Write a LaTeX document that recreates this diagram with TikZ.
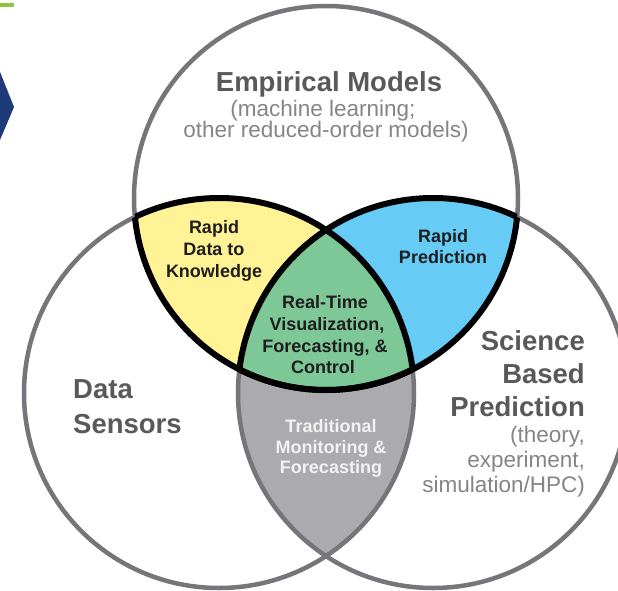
\documentclass[tikz,border=0pt]{standalone}
\usepackage{fontspec}
\setmainfont{Liberation Sans}
\definecolor{ringgray}{HTML}{76767A}
\definecolor{titlegray}{HTML}{595959}
\definecolor{subgray}{HTML}{858585}
\definecolor{zonetext}{HTML}{1E1E1E}
\definecolor{zoneyellow}{HTML}{FFF396}
\definecolor{zoneblue}{HTML}{66CCF5}
\definecolor{zonegreen}{HTML}{7DC896}
\definecolor{zonegray}{HTML}{AAAAAF}
\definecolor{navy}{HTML}{1F3A7A}
\definecolor{leafgreen}{HTML}{8DC63F}
\begin{document}
\begin{tikzpicture}[x=1pt,y=-1pt,
  ring/.style={draw=ringgray,line width=4.5pt},
  edge/.style={draw=black,line width=6pt},
  bigtitle/.style={font=\fontsize{27.5}{33}\selectfont\bfseries,text=titlegray,inner sep=0pt},
  subtitle/.style={font=\fontsize{22.5}{26}\selectfont,text=subgray,inner sep=0pt},
  zone/.style={font=\fontsize{18}{21}\selectfont\bfseries,text=zonetext,inner sep=0pt},
  zonelight/.style={font=\fontsize{18}{21}\selectfont\bfseries,text=white!95!black,inner sep=0pt},
]
\useasboundingbox[fill=white] (0,0) rectangle (618,591);

% circle centres
\coordinate (T) at (326,198);
\coordinate (L) at (219,393);
\coordinate (R) at (433,393);
\def\rT{192pt}
\def\rS{195pt}

% corner decorations
\fill[leafgreen] (0,3) rectangle (14,7);
\fill[navy] (0,72) -- (14,107) -- (0,140) -- cycle;

% overlap fills
\begin{scope}
  \clip (L) circle[radius=\rS];
  \fill[zonegray] (R) circle[radius=\rS];
\end{scope}
\begin{scope}
  \clip (T) circle[radius=\rT];
  \fill[zoneyellow] (L) circle[radius=\rS];
\end{scope}
\begin{scope}
  \clip (T) circle[radius=\rT];
  \fill[zoneblue] (R) circle[radius=\rS];
\end{scope}
\begin{scope}
  \clip (T) circle[radius=\rT];
  \clip (L) circle[radius=\rS];
  \fill[zonegreen] (R) circle[radius=\rS];
\end{scope}

% the three sets
\draw[ring] (T) circle[radius=\rT];
\draw[ring] (L) circle[radius=\rS];
\draw[ring] (R) circle[radius=\rS];

% black outlines of the overlaps with the top set
\begin{scope}
  \clip (T) circle[radius=\rT];
  \draw[edge] (L) circle[radius=\rS];
  \draw[edge] (R) circle[radius=\rS];
\end{scope}
\begin{scope}
  \clip (L) circle[radius=\rS];
  \draw[edge] (T) circle[radius=\rT];
\end{scope}
\begin{scope}
  \clip (R) circle[radius=\rS];
  \draw[edge] (T) circle[radius=\rT];
\end{scope}

% Empirical Models
\node[bigtitle,anchor=base] (em1) at (329,92) {Empirical Models};
\node[subtitle,anchor=base] (em2) at (323,117) {(machine learning;};
\node[subtitle,anchor=base] (em3) at (326,138) {other reduced-order models)};

% Data Sensors
\node[bigtitle,anchor=base west] (ds1) at (73,398) {Data};
\node[bigtitle,anchor=base west] (ds2) at (73,433) {Sensors};

% Science Based Prediction
\node[bigtitle,anchor=base east] (sb1) at (585,350) {Science};
\node[bigtitle,anchor=base east] (sb2) at (585,383) {Based};
\node[bigtitle,anchor=base east] (sb3) at (585,416) {Prediction};
\node[subtitle,anchor=base east] (sb4) at (585,442) {(theory,};
\node[subtitle,anchor=base east] (sb5) at (585,467) {experiment,};
\node[subtitle,anchor=base east] (sb6) at (585,492) {simulation/HPC)};

% overlap labels
\node[zone,anchor=base] (y1) at (214,233) {Rapid};
\node[zone,anchor=base] (y2) at (214,255) {Data to};
\node[zone,anchor=base] (y3) at (214,277) {Knowledge};

\node[zone,anchor=base] (b1) at (443,242) {Rapid};
\node[zone,anchor=base] (b2) at (443,263) {Prediction};

\node[zone,anchor=base] (g1) at (325,308) {Real-Time};
\node[zone,anchor=base] (g2) at (327,330) {Visualization,};
\node[zone,anchor=base] (g3) at (325,352) {Forecasting, \&};
\node[zone,anchor=base] (g4) at (323,373) {Control};

\node[zonelight,anchor=base] (t1) at (331,432) {Traditional};
\node[zonelight,anchor=base] (t2) at (331,453) {Monitoring \&};
\node[zonelight,anchor=base] (t3) at (331,473) {Forecasting};
\end{tikzpicture}
\end{document}
